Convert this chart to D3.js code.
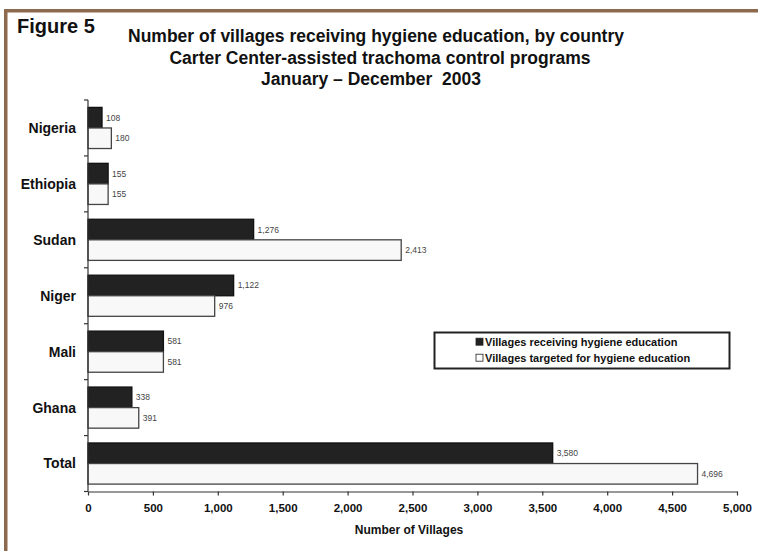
<!DOCTYPE html>
<html>
<head>
<meta charset="utf-8">
<script src="https://cdn.jsdelivr.net/npm/d3@7"></script>
<style>
  body { margin: 0; background: #fff; }
  svg { display: block; font-family: "Liberation Sans", Arial, sans-serif; }
</style>
</head>
<body>
<div id="chart"></div>
<script>
var categories = ["Nigeria", "Ethiopia", "Sudan", "Niger", "Mali", "Ghana", "Total"];
var receiving = [108, 155, 1276, 1122, 581, 338, 3580];
var targeted = [180, 155, 2413, 976, 581, 391, 4696];
var xTicks = [0, 500, 1000, 1500, 2000, 2500, 3000, 3500, 4000, 4500, 5000];
var seriesNames = ["Villages receiving hygiene education", "Villages targeted for hygiene education"];
var titleLines = ["Number of villages receiving hygiene education, by country",
                  "Carter Center-assisted trachoma control programs",
                  "January \u2013 December  2003"];

window.onload = function() {
    var width = 758, height = 551;

    var svg = d3.select("#chart")
      .append("svg")
        .attr("width", width)
        .attr("height", height);

    // brown frame (top and left only)
    svg.append("rect").attr("x", 4).attr("y", 9).attr("width", 754).attr("height", 3.5).attr("fill", "#8d6a4e");
    svg.append("rect").attr("x", 4).attr("y", 9).attr("width", 3.5).attr("height", 542).attr("fill", "#8d6a4e");

    svg.append("text")
        .attr("x", 17).attr("y", 33)
        .attr("font-size", "20px").attr("font-weight", "bold").attr("fill", "#111")
        .text("Figure 5");

    var titleX = [376, 380, 371];
    svg.selectAll(".title")
      .data(titleLines)
      .enter().append("text")
        .attr("class", "title")
        .attr("x", function(d, i) { return titleX[i]; })
        .attr("y", function(d, i) { return 42 + i * 21.7; })
        .attr("text-anchor", "middle")
        .attr("font-size", "17.5px").attr("font-weight", "bold").attr("fill", "#111")
        .style("white-space", "pre")
        .text(function(d) { return d; });

    var x = d3.scaleLinear().domain([0, 5000]).range([88, 737]);
    var y = d3.scaleBand().domain(categories).range([100, 491.5]);
    var sub = d3.scaleBand().domain([0, 1]).range([0, y.bandwidth()]).paddingOuter(0.36);

    var rows = categories.map(function(c, i) {
        return {cat: c, vals: [receiving[i], targeted[i]]};
    });

    var g = svg.selectAll(".row")
      .data(rows)
      .enter().append("g")
        .attr("transform", function(d) { return "translate(0," + y(d.cat) + ")"; });

    g.selectAll("rect")
      .data(function(d) { return d.vals; })
      .enter().append("rect")
        .attr("x", x(0))
        .attr("y", function(d, i) { return sub(i); })
        .attr("width", function(d) { return x(d) - x(0); })
        .attr("height", sub.bandwidth())
        .attr("fill", function(d, i) { return i == 0 ? "#222" : "#f8f8f8"; })
        .attr("stroke", function(d, i) { return i == 0 ? "#111" : "#444"; })
        .attr("stroke-width", 1.3);

    g.selectAll(".val")
      .data(function(d) { return d.vals; })
      .enter().append("text")
        .attr("x", function(d) { return x(d) + 4; })
        .attr("y", function(d, i) { return sub(i) + sub.bandwidth() / 2; })
        .attr("dy", "0.35em")
        .attr("font-size", "8.5px").attr("fill", "#444")
        .text(d3.format(","));

    // category labels
    svg.selectAll(".cat")
      .data(categories)
      .enter().append("text")
        .attr("x", 76)
        .attr("y", function(d) { return y(d) + y.bandwidth() / 2; })
        .attr("dy", "0.35em")
        .attr("text-anchor", "end")
        .attr("font-size", "14px").attr("font-weight", "bold").attr("fill", "#111")
        .text(function(d) { return d; });

    // y axis line and ticks at band boundaries
    svg.append("line")
        .attr("x1", x(0)).attr("x2", x(0))
        .attr("y1", y.range()[0]).attr("y2", y.range()[1])
        .attr("stroke", "#333").attr("stroke-width", 1.2);
    var bounds = categories.map(function(c) { return y(c); }).concat([y.range()[1]]);
    svg.selectAll(".ytick")
      .data(bounds)
      .enter().append("line")
        .attr("x1", x(0) - 4).attr("x2", x(0))
        .attr("y1", function(d) { return d; }).attr("y2", function(d) { return d; })
        .attr("stroke", "#333").attr("stroke-width", 1.2);

    // x axis
    var xAxis = svg.append("g")
        .attr("transform", "translate(0," + y.range()[1] + ")")
        .call(d3.axisBottom(x).tickValues(xTicks).tickFormat(d3.format(",")).tickSizeOuter(0).tickSizeInner(4).tickPadding(8));
    xAxis.select(".domain").attr("stroke", "#333").attr("stroke-width", 1.2);
    xAxis.selectAll(".tick line").attr("stroke", "#333").attr("stroke-width", 1.2);
    xAxis.selectAll(".tick text")
        .attr("font-size", "11.5px").attr("font-weight", "bold").attr("fill", "#111")
        .attr("font-family", "Liberation Sans, Arial, sans-serif");

    svg.append("text")
        .attr("x", 409).attr("y", 534)
        .attr("text-anchor", "middle")
        .attr("font-size", "12px").attr("font-weight", "bold").attr("fill", "#111")
        .text("Number of Villages");

    // legend
    svg.append("rect")
        .attr("x", 434.5).attr("y", 332.5).attr("width", 295).attr("height", 36)
        .attr("fill", "#fff").attr("stroke", "#222").attr("stroke-width", 2);
    var leg = svg.selectAll(".leg")
      .data(seriesNames)
      .enter().append("g")
        .attr("transform", function(d, i) { return "translate(476," + (341.7 + i * 16) + ")"; });
    leg.append("rect")
        .attr("x", 0).attr("y", -3.5).attr("width", 7).attr("height", 7)
        .attr("fill", function(d, i) { return i == 0 ? "#222" : "#fff"; })
        .attr("stroke", "#222").attr("stroke-width", 0.8);
    leg.append("text")
        .attr("x", 9).attr("dy", "0.36em")
        .attr("font-size", "11px").attr("font-weight", "bold").attr("fill", "#111")
        .text(function(d) { return d; });
};
</script>
</body>
</html>
